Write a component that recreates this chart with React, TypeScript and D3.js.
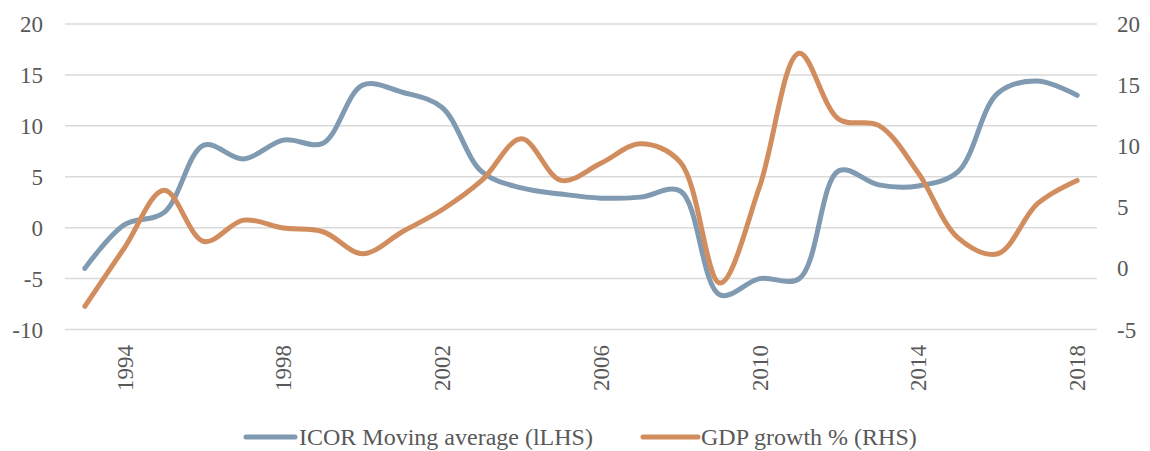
import React from "react";
import * as d3 from "d3";

const years: number[] = [1993,1994,1995,1996,1997,1998,1999,2000,2001,2002,2003,2004,2005,2006,2007,2008,2009,2010,2011,2012,2013,2014,2015,2016,2017,2018];
const icor: number[] = [-4.0,0.3,1.5,8.1,6.75,8.6,8.3,14.0,13.3,11.8,5.5,3.9,3.3,2.9,3.0,3.6,-6.6,-5.0,-5.0,5.6,4.2,4.1,5.5,13.2,14.4,13.0];
const gdp: number[] = [-3.1,1.7,6.4,2.2,3.95,3.3,3.0,1.2,3.0,4.8,7.2,10.6,7.2,8.6,10.2,8.7,-1.2,6.7,17.6,12.2,11.7,7.8,2.5,1.2,5.3,7.2];
const leftTicks: number[] = [-10,-5,0,5,10,15,20];
const rightTicks: number[] = [-5,0,5,10,15,20];
const xLabels: number[] = [1994,1998,2002,2006,2010,2014,2018];
const seriesNames: string[] = ["ICOR Moving average (lLHS)", "GDP growth % (RHS)"];

const BLUE = "#7F9AB1";
const ORANGE = "#D18D5E";
const TEXT = "#595959";
const FONT = "'Liberation Serif', 'Times New Roman', serif";

export default function App() {
  const W = 1150, H = 451;
  const left = 65, right = 1097, top = 24, bottom = 329.5;
  const x = d3.scaleBand<number>().domain(years).range([left, right]);
  const cx = (yr: number) => (x(yr) as number) + x.bandwidth() / 2;
  const yL = d3.scaleLinear().domain([-10, 20]).range([bottom, top]);
  const yR = d3.scaleLinear().domain([-5, 20]).range([bottom, top]);

  const curve = d3.curveCatmullRom.alpha(0.5);
  const lineL = d3.line<number>().x((_, i) => cx(years[i])).y((d) => yL(d)).curve(curve);
  const lineR = d3.line<number>().x((_, i) => cx(years[i])).y((d) => yR(d)).curve(curve);

  const legY = 437;
  return (
    <svg width={W} height={H} style={{ position: "absolute", left: 0, top: 0, background: "#fff" }}>
      {leftTicks.map((t) => (
        <line key={"g" + t} x1={left} x2={right} y1={yL(t)} y2={yL(t)} stroke="#D9D9D9" strokeWidth={1.5} />
      ))}
      {leftTicks.map((t) => (
        <text key={"l" + t} x={43} y={yL(t)} dy="0.35em" textAnchor="end" fontFamily={FONT} fontSize={23} fill={TEXT}>{t}</text>
      ))}
      {rightTicks.map((t) => (
        <text key={"r" + t} x={1117} y={yR(t)} dy="0.35em" textAnchor="start" fontFamily={FONT} fontSize={23} fill={TEXT}>{t}</text>
      ))}
      {xLabels.map((yr) => (
        <text key={"x" + yr} transform={`translate(${cx(yr)},345) rotate(-90)`} dy="0.35em" textAnchor="end" fontFamily={FONT} fontSize={23} fill={TEXT}>{yr}</text>
      ))}
      <path d={lineL(icor) || ""} fill="none" stroke={BLUE} strokeWidth={5} strokeLinecap="round" strokeLinejoin="round" />
      <path d={lineR(gdp) || ""} fill="none" stroke={ORANGE} strokeWidth={5} strokeLinecap="round" strokeLinejoin="round" />
      <line x1={246} x2={295} y1={legY} y2={legY} stroke={BLUE} strokeWidth={5} strokeLinecap="round" />
      <text x={299} y={legY} dy="0.35em" fontFamily={FONT} fontSize={24} fill={TEXT}>{seriesNames[0]}</text>
      <line x1={643} x2={698} y1={legY} y2={legY} stroke={ORANGE} strokeWidth={5} strokeLinecap="round" />
      <text x={701} y={legY} dy="0.35em" fontFamily={FONT} fontSize={24} fill={TEXT}>{seriesNames[1]}</text>
    </svg>
  );
}
